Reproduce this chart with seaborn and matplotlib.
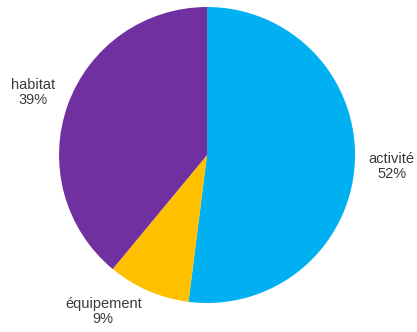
import matplotlib
matplotlib.use("Agg")
import numpy as np
import matplotlib.pyplot as plt
import seaborn as sns

categories = ["activité", "équipement", "habitat"]
shares = [52, 9, 39]
colors = ["#00B0F0", "#FFC000", "#7030A0"]

sns.set_theme(style="white")
plt.rcParams["font.family"] = ["Liberation Sans", "DejaVu Sans"]
palette = sns.color_palette(colors)

fig = plt.figure(figsize=(4.17, 3.32), dpi=100)
ax = fig.add_axes([0.1415, 0.0873, 0.710, 0.8916])

labels = [f"{c}\n{v}%" for c, v in zip(categories, shares)]
wedges, texts = ax.pie(shares, labels=labels, colors=palette, startangle=90,
                       counterclock=False, labeldistance=1.25, radius=1.0,
                       wedgeprops=dict(linewidth=0),
                       textprops=dict(ha="center", va="center", fontsize=10.5,
                                      color="#3a3a3a", multialignment="center",
                                      linespacing=1.05))

# small slice label sits a bit further round, kept inside the figure
ang = np.deg2rad(-123.5)
texts[1].set_position((1.27 * np.cos(ang), 1.27 * np.sin(ang)))

ax.set_xlim(-1, 1)
ax.set_ylim(-1, 1)
ax.set_aspect("equal")
ax.axis("off")

fig.savefig("out.png", dpi=100)
